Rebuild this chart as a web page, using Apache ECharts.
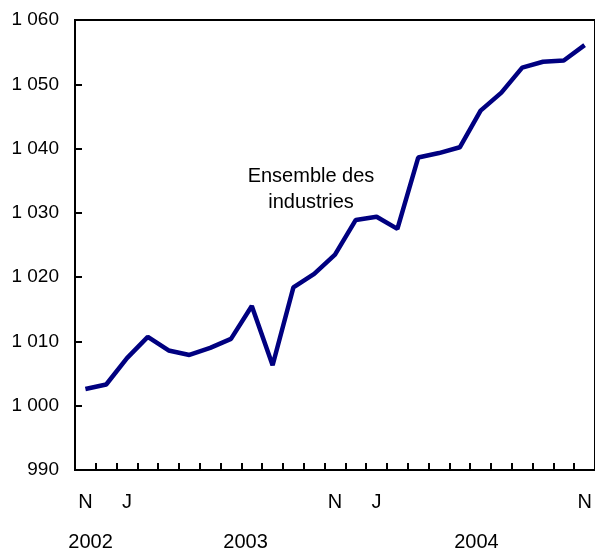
<!DOCTYPE html>
<html>
<head>
<meta charset="utf-8">
<script src="https://cdn.jsdelivr.net/npm/echarts@6/dist/echarts.min.js"></script>
<style>
html, body { margin: 0; padding: 0; background: #fff; }
#chart { width: 595px; height: 552px; }
</style>
</head>
<body>
<div id="chart"></div>
<script>
// months Nov 2002 .. Nov 2004, only some are labelled
var months = ['N', '', 'J', '', '', '', '', '', '', '', '', '', 'N', '', 'J', '', '', '', '', '', '', '', '', '', 'N'];
var values = [1002.6, 1003.3, 1007.4, 1010.7, 1008.6, 1007.9, 1009.0, 1010.4, 1015.5, 1006.3,
	1018.4, 1020.5, 1023.5, 1028.9, 1029.4, 1027.5, 1038.6, 1039.3, 1040.2, 1045.9,
	1048.7, 1052.6, 1053.5, 1053.7, 1056.1];
var years = ['2002', '2003', '2004'];
var yearPos = [0.25, 7.7, 18.8];
var seriesLabel = 'Ensemble des\nindustries';

var font = 'Liberation Sans, Arial, Helvetica, sans-serif';

var chart = echarts.init(document.getElementById('chart'));

function fmtNum(v) {
	if (v >= 1000) {
		return Math.floor(v / 1000) + ' ' + String(v % 1000).padStart(3, '0');
	}
	return String(v);
}

var option = {
	animation : false,
	grid : {
		left : 75,
		top : 20,
		bottom : 80,
		width : 523,
		show : true,
		borderColor : '#000',
		borderWidth : 2
	},
	xAxis : [
		{
			type : 'category',
			data : months,
			boundaryGap : true,
			axisLine : { show : true, lineStyle : { color : '#000', width : 2 } },
			axisTick : { show : true, inside : true, length : 7, interval : 0, lineStyle : { color : '#000', width : 2 } },
			axisLabel : { interval : 0, margin : 22, color : '#000', fontSize : 20, fontFamily : font },
			splitLine : { show : false }
		},
		{
			type : 'value',
			position : 'bottom',
			min : -0.5,
			max : 24.5,
			axisLine : { show : false },
			axisTick : { show : false },
			splitLine : { show : false },
			axisLabel : {
				customValues : yearPos,
				margin : 62,
				color : '#000',
				fontSize : 20,
				fontFamily : font,
				formatter : function(v) {
					var i = yearPos.indexOf(v);
					return i >= 0 ? years[i] : '';
				}
			}
		}
	],
	yAxis : {
		type : 'value',
		min : 990,
		max : 1060,
		interval : 10,
		axisLine : { show : true, onZero : false, lineStyle : { color : '#000', width : 2 } },
		axisTick : { show : true, inside : true, length : 7, lineStyle : { color : '#000', width : 2 } },
		axisLabel : { margin : 16, color : '#000', fontSize : 19, fontFamily : font, formatter : fmtNum },
		splitLine : { show : false }
	},
	graphic : [
		{
			type : 'text',
			x : 311,
			y : 163,
			style : {
				text : seriesLabel,
				fill : '#000',
				font : '20px ' + font,
				textAlign : 'center',
				lineHeight : 26
			}
		}
	],
	series : [
		{
			type : 'line',
			data : values,
			symbol : 'none',
			lineStyle : { color : '#000080', width : 4.5 },
			z : 5
		}
	]
};
chart.setOption(option);
</script>
</body>
</html>
